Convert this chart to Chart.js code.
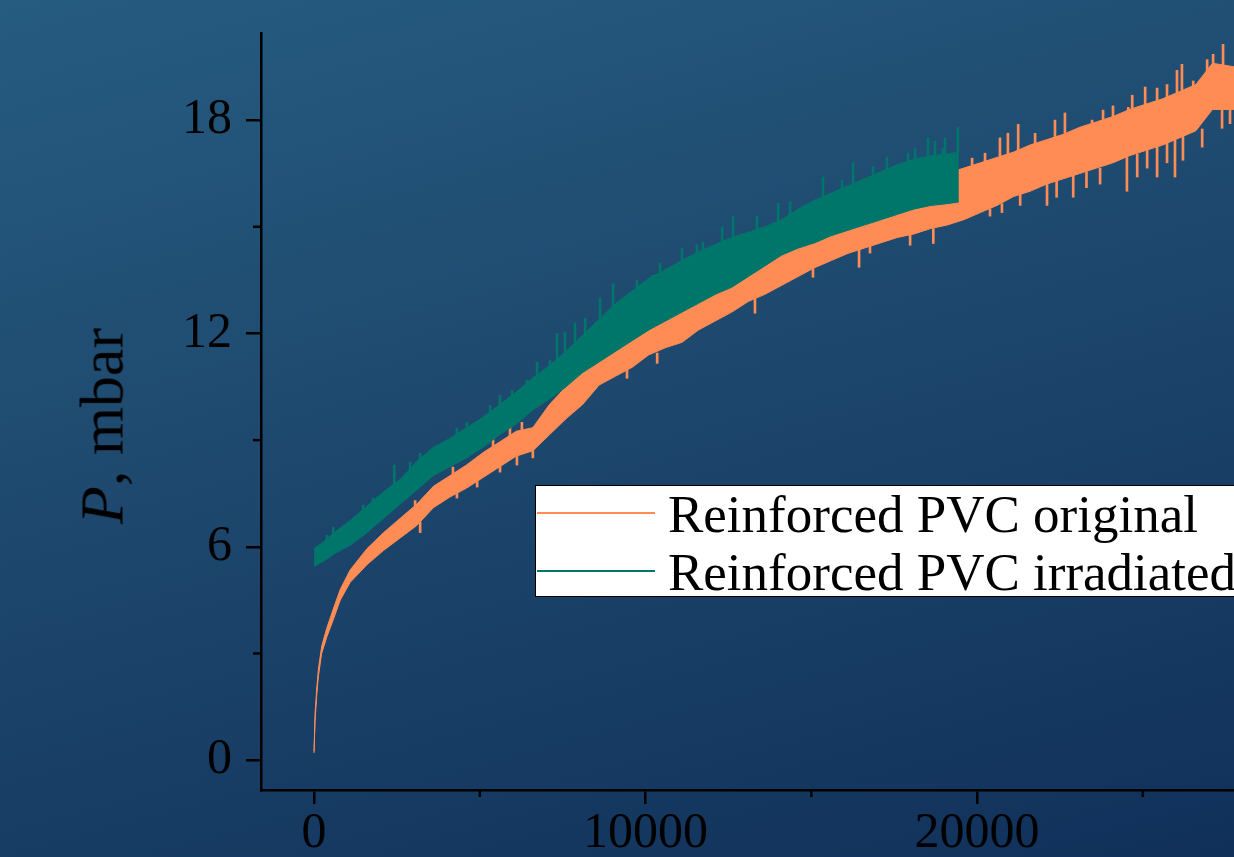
<!DOCTYPE html>
<html>
<head>
<meta charset="utf-8">
<script src="https://cdn.jsdelivr.net/npm/chart.js@4.4.1/dist/chart.umd.min.js"></script>
<style>
    html, body { margin: 0; padding: 0; }
    body {
        width: 1234px; height: 857px; overflow: hidden; position: relative;
        background: linear-gradient(165deg, #265c80 0%, #1e486e 45%, #10305a 100%);
        font-family: 'Liberation Serif', 'Times New Roman', serif;
    }
    #wrap { position: absolute; left: 0; top: 0; width: 1234px; height: 857px; }
    #ytitle {
        position: absolute; left: 102px; top: 426px;
        transform: translate(-50%, -50%) rotate(-90deg);
        font-size: 62px; color: #000; white-space: nowrap;
    }
    #legend {
        position: absolute; left: 535px; top: 485px; width: 760px; height: 112px;
        background: #fff; border: 1.5px solid #000; box-sizing: border-box;
    }
    .row { position: absolute; left: 0; height: 58px; line-height: 58px; font-size: 53px; color: #000; white-space: nowrap; }
    .row span.swatch { position: absolute; left: 1px; top: 27px; width: 118px; height: 1.5px; }
    .row span.txt { position: absolute; left: 132px; top: 0; }
</style>
</head>
<body>
<div id="wrap"><canvas id="pressureChart"></canvas></div>
<div id="ytitle"><i>P</i>, mbar</div>
<div id="legend">
    <div class="row" style="top:-1px"><span class="swatch" id="swOrig"></span><span class="txt">Reinforced PVC original</span></div>
    <div class="row" style="top:57px"><span class="swatch" id="swIrr"></span><span class="txt">Reinforced PVC irradiated</span></div>
</div>
<script>
// tick positions / labels
const xTicks = [0, 5000, 10000, 15000, 20000, 25000];
const xLabels = [0, 10000, 20000];
const yTicks = [0, 3, 6, 9, 12, 15, 18];
const yLabels = [0, 6, 12, 18];

// Reinforced PVC original - noise band (lower / upper edge), t in s
const origTime = [0, 30, 80, 130, 230, 380, 580, 790, 1090,
    1600, 2100, 2600, 3100, 3600, 4100, 4600, 5100, 5600, 6100, 6600, 7100, 7600, 8100, 8600, 9100, 9600,
    10100, 10600, 11100, 11600, 12100, 12600, 13100, 13600, 14100, 14600, 15100, 15600, 16100, 16600,
    17100, 17600, 18100, 18600, 19100, 19600, 20100, 20600, 21100, 21600, 22100, 22600, 23100, 23600,
    24100, 24600, 25100, 25600, 26100, 26600, 27100, 27750];
const origLow = [0.2, 1.1, 1.8, 2.35, 3.0, 3.45, 3.95, 4.5, 5.0,
    5.5, 5.9, 6.25, 6.6, 7.1, 7.4, 7.65, 7.95, 8.25, 8.55, 8.7, 9.15, 9.6, 10.0, 10.55, 10.8, 11.05,
    11.4, 11.6, 11.75, 12.1, 12.35, 12.6, 12.9, 13.1, 13.35, 13.6, 13.85, 14.05, 14.25, 14.4,
    14.55, 14.7, 14.8, 14.95, 15.05, 15.2, 15.4, 15.6, 15.85, 16.0, 16.2, 16.35, 16.5, 16.65,
    16.8, 17.0, 17.15, 17.3, 17.5, 17.7, 18.3, 18.3];
const origHigh = [0.25, 1.3, 2.0, 2.55, 3.2, 3.7, 4.25, 4.8, 5.35,
    5.95, 6.4, 6.8, 7.2, 7.7, 8.0, 8.3, 8.65, 8.95, 9.25, 9.35, 10.0, 10.5, 10.95, 11.4, 11.7, 12.0,
    12.45, 12.7, 12.85, 13.25, 13.5, 13.75, 14.0, 14.25, 14.45, 14.7, 14.95, 15.15, 15.35, 15.55,
    15.75, 15.95, 16.1, 16.3, 16.5, 16.65, 16.8, 16.95, 17.1, 17.3, 17.45, 17.6, 17.8, 17.95,
    18.1, 18.3, 18.45, 18.6, 18.8, 19.0, 19.6, 19.5];
// single noise spikes of the original sample (time, band edge, tip)
const origSpikeTime = [3050, 4190, 5400, 5910, 6270, 8840, 19850, 20240, 20690, 20930, 21240, 21750, 22350, 22650,
    23470, 23800, 24100, 24560, 24680, 25070, 25430, 25730, 26030, 26180, 26520, 26730, 26940, 27120, 27420,
    3200, 4310, 4920, 5610, 6120, 6600, 9440, 10350, 13300, 15050, 16440, 16770, 17980, 18680, 20390, 20750,
    21300, 22110, 22400, 22900, 23300, 23710, 24520, 24830, 25130, 25430, 25730, 25970, 26210, 26790,
    27390, 27630];
const origSpikeBase = [6.95, 7.9, 8.8, 9.1, 9.2, 11.5, 16.5, 16.6, 16.8, 16.9, 17.0, 17.2, 17.4, 17.5,
    17.8, 17.9, 18.0, 18.2, 18.2, 18.4, 18.5, 18.6, 18.7, 18.8, 18.95, 19.0, 19.2, 19.4, 19.5,
    6.7, 7.6, 7.85, 8.3, 8.55, 8.75, 11.0, 11.45, 13.0, 13.85, 14.4, 14.45, 14.8, 14.95, 15.5, 15.65,
    15.95, 16.2, 16.3, 16.45, 16.55, 16.65, 16.95, 17.05, 17.15, 17.25, 17.35, 17.45, 17.55, 17.75,
    18.3, 18.3];
const origSpikeTip = [7.3, 8.24, 9.08, 9.42, 9.5, 11.76, 16.93, 17.07, 17.5, 17.63, 17.88, 17.63, 18.0, 18.2,
    18.0, 18.28, 18.4, 18.36, 18.7, 18.93, 18.9, 19.0, 19.4, 19.57, 19.1, 19.1, 19.7, 19.85, 20.13,
    6.4, 7.37, 7.68, 8.1, 8.3, 8.5, 10.74, 11.16, 12.57, 13.58, 13.86, 14.26, 14.48, 14.53, 15.3, 15.4,
    15.6, 15.6, 15.83, 15.83, 16.1, 16.2, 16.0, 16.4, 16.65, 16.4, 16.8, 16.4, 16.87, 17.24,
    17.77, 17.9];

// Reinforced PVC irradiated
const irrTime = [0, 300, 600, 1100,
    1600, 2100, 2600, 3100, 3600, 4100, 4600, 5100, 5600, 6100, 6600, 7100, 7600, 8100, 8600, 9100, 9600,
    10100, 10600, 11100, 11600, 12100, 12600, 13100, 13600, 14100, 14600, 15100, 15600, 16100, 16600,
    17100, 17600, 18100, 18600, 19100, 19450];
const irrLow = [5.45, 5.6, 5.8, 6.05,
    6.4, 6.8, 7.2, 7.6, 8.0, 8.25, 8.5, 8.8, 9.15, 9.45, 9.85, 10.15, 10.5, 10.9, 11.2, 11.5, 11.8,
    12.1, 12.35, 12.6, 12.85, 13.1, 13.3, 13.6, 13.9, 14.2, 14.4, 14.55, 14.75, 14.9, 15.05,
    15.2, 15.35, 15.5, 15.6, 15.65, 15.7];
const irrHigh = [5.95, 6.15, 6.4, 6.75,
    7.15, 7.55, 7.9, 8.4, 8.8, 9.05, 9.35, 9.65, 10.0, 10.35, 10.75, 11.1, 11.5, 11.95, 12.4, 12.85, 13.2,
    13.55, 13.8, 14.05, 14.3, 14.5, 14.7, 14.85, 15.0, 15.2, 15.5, 15.75, 15.95, 16.15, 16.35,
    16.55, 16.75, 16.9, 17.0, 17.05, 17.1];
const irrSpikeTime = [390, 580, 930, 1480, 1780, 2420, 2900, 3200, 4310, 4610, 5310, 5610, 5970, 6420,
    6730, 7120, 7330, 7570, 7870, 8180, 8630, 9020,
    9740, 10200, 10440, 11100, 11550, 11730, 12310, 12640, 13360, 14000, 14360, 15350, 15930, 16260,
    16860, 17280, 17920, 18130, 18520, 18730, 18970, 19030, 19420];
const irrSpikeBase = [6.2, 6.35, 6.4, 6.9, 7.2, 7.6, 8.1, 8.4, 9.1, 9.3, 9.8, 10.0, 10.2, 10.5,
    10.8, 11.05, 11.2, 11.45, 11.7, 11.95, 12.4, 12.75,
    13.15, 13.4, 13.5, 14.0, 14.2, 14.25, 14.5, 14.6, 14.9, 15.15, 15.3, 15.85, 16.1, 16.2,
    16.45, 16.6, 16.85, 16.9, 17.0, 17.0, 17.05, 17.05, 17.1];
const irrSpikeTip = [6.33, 6.55, 6.55, 7.17, 7.37, 8.3, 8.38, 8.63, 9.33, 9.5, 9.98, 10.26, 10.4, 10.69,
    11.2, 11.25, 12.0, 12.04, 12.3, 12.43, 13.0, 13.4,
    13.5, 13.64, 13.98, 14.4, 14.5, 14.57, 15.0, 15.3, 15.3, 15.66, 15.7, 16.4, 16.3, 16.8,
    16.7, 16.96, 17.07, 17.2, 17.5, 17.4, 17.2, 17.5, 17.8];

const ORANGE = '#ff8c55';
const TEAL = '#00756a';

document.getElementById('swOrig').style.background = ORANGE;
document.getElementById('swIrr').style.background = TEAL;

function toPoints(t, v) {
    return t.map((x, i) => ({ x: x, y: v[i] }));
}

function band(label, t, v, color, fill) {
    return {
        label: label,
        data: toPoints(t, v),
        borderColor: color,
        backgroundColor: color,
        borderWidth: 1,
        pointRadius: 0,
        tension: 0,
        fill: fill
    };
}

function spikes(label, t, base, tip, color) {
    return {
        type: 'bar',
        label: label,
        data: t.map((x, i) => ({ x: x, y: [base[i], tip[i]] })),
        backgroundColor: color,
        borderWidth: 0,
        barThickness: 2,
        grouped: false
    };
}

// short minor ticks (Chart.js draws only one tick length)
const minorTicks = {
    id: 'minorTicks',
    afterDraw(chart) {
        const ctx = chart.ctx;
        const xs = chart.scales.x, ys = chart.scales.y;
        ctx.save();
        ctx.strokeStyle = '#000';
        ctx.lineWidth = 2.5;
        xTicks.filter(v => !xLabels.includes(v)).forEach(v => {
            const px = xs.getPixelForValue(v);
            ctx.beginPath(); ctx.moveTo(px, xs.top); ctx.lineTo(px, xs.top + 7); ctx.stroke();
        });
        yTicks.filter(v => !yLabels.includes(v)).forEach(v => {
            const py = ys.getPixelForValue(v);
            ctx.beginPath(); ctx.moveTo(ys.right, py); ctx.lineTo(ys.right - 8, py); ctx.stroke();
        });
        ctx.restore();
    }
};

const tickFont = { family: 'Liberation Serif', size: 50 };

new Chart(document.getElementById('pressureChart'), {
    type: 'line',
    data: {
        datasets: [
            band('Reinforced PVC irradiated', irrTime, irrHigh, TEAL, false),
            band('irradiated low', irrTime, irrLow, TEAL, '-1'),
            spikes('irradiated spikes', irrSpikeTime, irrSpikeBase, irrSpikeTip, TEAL),
            band('Reinforced PVC original', origTime, origHigh, ORANGE, false),
            band('original low', origTime, origLow, ORANGE, '-1'),
            spikes('original spikes', origSpikeTime, origSpikeBase, origSpikeTip, ORANGE)
        ]
    },
    options: {
        responsive: true,
        maintainAspectRatio: false,
        animation: false,
        layout: { padding: { top: 33, right: 0, left: 0, bottom: 0 } },
        plugins: { legend: { display: false }, tooltip: { enabled: false } },
        scales: {
            x: {
                type: 'linear', min: -1600, max: 27750, offset: false,
                afterBuildTicks: s => { s.ticks = xTicks.map(v => ({ value: v })); },
                afterFit: s => { s.height = 67; s.paddingLeft = 0; s.paddingRight = 0; },
                ticks: {
                    callback: v => xLabels.includes(v) ? String(v) : '',
                    color: '#000', font: tickFont, padding: 0, maxRotation: 0, autoSkip: false
                },
                grid: {
                    offset: false, drawOnChartArea: false, tickLength: 14, lineWidth: 2.5,
                    color: c => (c.tick && xLabels.includes(c.tick.value)) ? '#000' : 'rgba(0,0,0,0)'
                },
                border: { color: '#000', width: 2.5 }
            },
            y: {
                min: -0.84, max: 20.45,
                afterBuildTicks: s => { s.ticks = yTicks.map(v => ({ value: v })); },
                afterFit: s => { s.width = 261; s.paddingTop = 0; s.paddingBottom = 0; },
                ticks: {
                    callback: v => yLabels.includes(v) ? String(v) : '',
                    color: '#000', font: tickFont, padding: 14, autoSkip: false
                },
                grid: {
                    drawOnChartArea: false, tickLength: 15, lineWidth: 2.5,
                    color: c => (c.tick && yLabels.includes(c.tick.value)) ? '#000' : 'rgba(0,0,0,0)'
                },
                border: { color: '#000', width: 2.5 }
            }
        }
    },
    plugins: [minorTicks]
});
</script>
</body>
</html>
